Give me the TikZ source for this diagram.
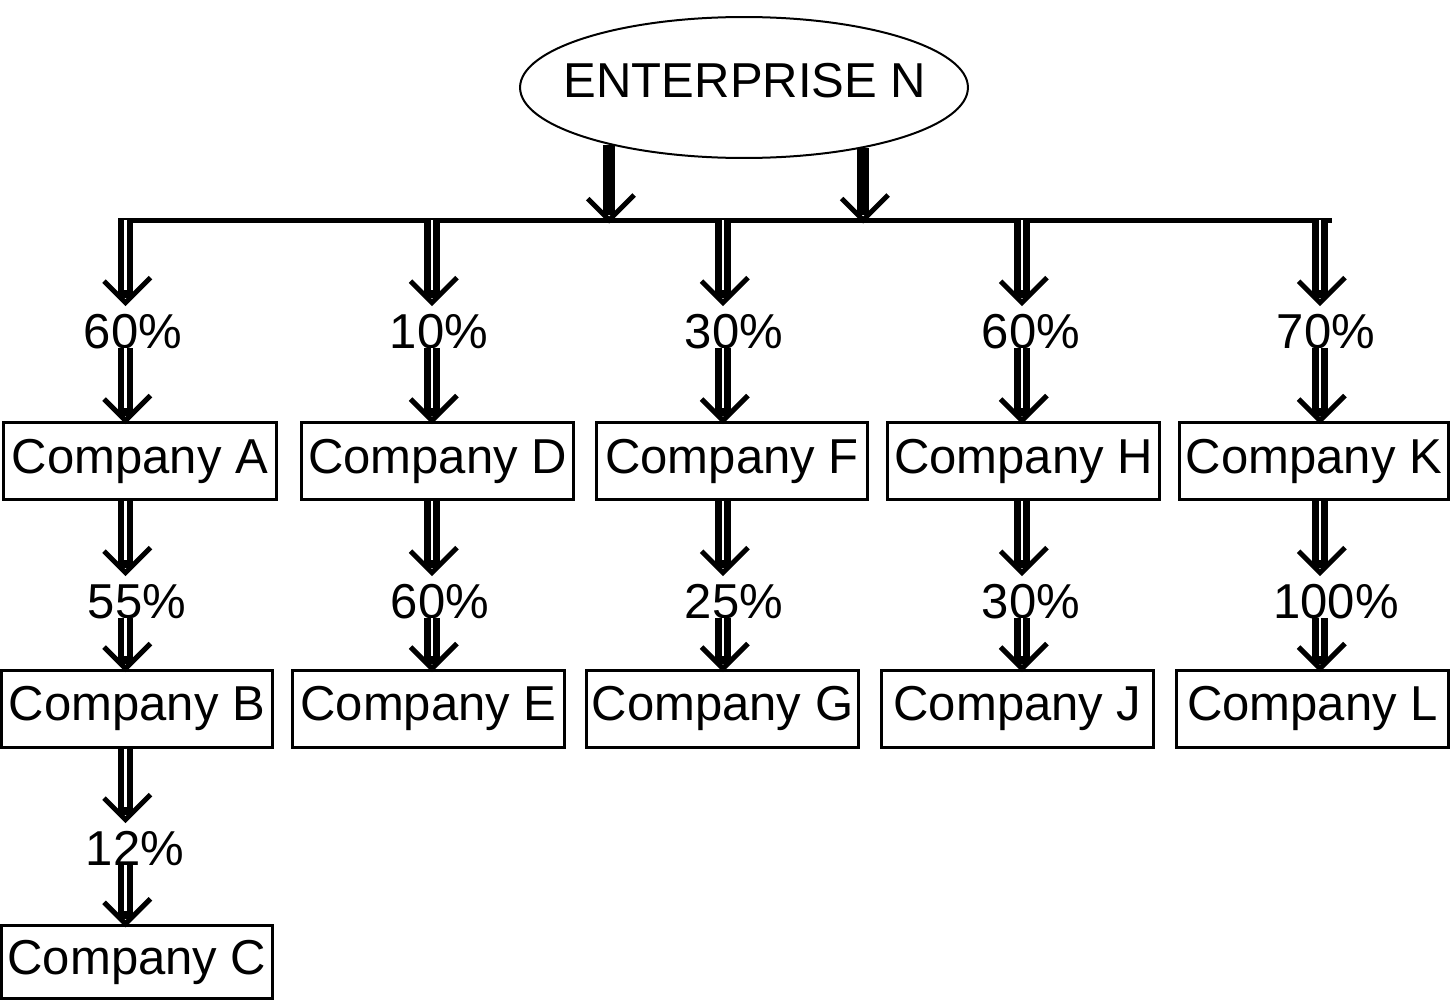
\documentclass[tikz,border=0pt]{standalone}
\usepackage{fontspec}
\setmainfont{Liberation Sans}
\usetikzlibrary{shapes.geometric,decorations.markings}
\begin{document}
\begin{tikzpicture}[x=0.02cm,y=-0.02cm,
  txt/.style={font=\fontsize{27.9pt}{32pt}\selectfont, inner sep=0pt},
  pct/.style={txt, text height=0.9cm, text depth=0pt, anchor=base},
  cbox/.style={txt, draw, line width=0.06cm, minimum height=1.56cm},
  entshape/.style={ellipse, draw, line width=0.04cm, inner sep=0pt,
    minimum width=8.96cm, minimum height=2.82cm},
  vtip/.style={postaction={decorate}, decoration={markings,
    mark=at position 1 with {\draw[line width=0.1cm, line join=miter, line cap=butt, -]
      (-0.5cm,0.5cm) -- (0,0) -- (-0.5cm,-0.5cm);}}},
  dshaft/.style={line width=0.32cm, shorten >=0.1cm,
    postaction={draw=white, line width=0.05cm, shorten >=0.25cm}, vtip},
  sshaft/.style={line width=0.24cm, shorten >=0.1cm, vtip},
  barline/.style={line width=0.1cm}
]
\useasboundingbox (0,0) rectangle (1451,1001);

% top
\node[entshape] (ent) at (744,87.5) {};
\node[txt] (entxt) at (745,80.5) {ENTERPRISE N};

\coordinate (barL) at (118,220);
\coordinate (barR) at (1332,220);
\draw[barline] (barL) -- (barR);

\draw[sshaft] (ent.-157.36) -- (ent.-157.36 |- barL);
\draw[sshaft] (ent.-27.19) -- (ent.-27.19 |- barL);

% column positions on the bar
\coordinate (c1) at (125.5,220);
\coordinate (c2) at (432,220);
\coordinate (c3) at (723,220);
\coordinate (c4) at (1022,220);
\coordinate (c5) at (1320,220);

% first-level labels
\node[pct] (p1) at (133,348) {60\%};
\node[pct] (p2) at (439,348) {10\%};
\node[pct] (p3) at (734,348) {30\%};
\node[pct] (p4) at (1031,348) {60\%};
\node[pct] (p5) at (1326,348) {70\%};

% first-level boxes
\node[cbox, minimum width=5.48cm] (A) at (140,461) {Company A};
\node[cbox, minimum width=5.46cm] (D) at (437.5,461) {Company D};
\node[cbox, minimum width=5.44cm] (F) at (732,461) {Company F};
\node[cbox, minimum width=5.46cm] (H) at (1023.5,461) {Company H};
\node[cbox, minimum width=5.40cm] (K) at (1314,461) {Company K};

% second-level labels
\node[pct] (q1) at (137,618) {55\%};
\node[pct] (q2) at (440,618) {60\%};
\node[pct] (q3) at (734,618) {25\%};
\node[pct] (q4) at (1031,618) {30\%};
\node[pct] (q5) at (1336,618) {100\%};

% second-level boxes
\node[cbox, minimum width=5.44cm, minimum height=1.54cm] (B) at (137,708.5) {Company B};
\node[cbox, minimum width=5.46cm, minimum height=1.54cm] (E) at (428.5,708.5) {Company E};
\node[cbox, minimum width=5.46cm, minimum height=1.54cm] (G) at (722.5,708.5) {Company G};
\node[cbox, minimum width=5.46cm, minimum height=1.54cm] (J) at (1017.5,708.5) {Company J};
\node[cbox, minimum width=5.46cm, minimum height=1.54cm] (L) at (1312.5,708.5) {Company L};

% third level
\node[pct] (r1) at (135,865) {12\%};
\node[cbox, minimum width=5.44cm, minimum height=1.47cm] (C) at (137,962) {Company C};

% connectors: bar -> labels -> boxes
\draw[dshaft] (c1) -- (p1.north -| c1);
\draw[dshaft] (c2) -- (p2.north -| c2);
\draw[dshaft] (c3) -- (p3.north -| c3);
\draw[dshaft] (c4) -- (p4.north -| c4);
\draw[dshaft] (c5) -- (p5.north -| c5);

\draw[dshaft] (p1.south -| c1) -- (A.north -| c1);
\draw[dshaft] (p2.south -| c2) -- (D.north -| c2);
\draw[dshaft] (p3.south -| c3) -- (F.north -| c3);
\draw[dshaft] (p4.south -| c4) -- (H.north -| c4);
\draw[dshaft] (p5.south -| c5) -- (K.north -| c5);

\draw[dshaft] (A.south -| c1) -- (q1.north -| c1);
\draw[dshaft] (D.south -| c2) -- (q2.north -| c2);
\draw[dshaft] (F.south -| c3) -- (q3.north -| c3);
\draw[dshaft] (H.south -| c4) -- (q4.north -| c4);
\draw[dshaft] (K.south -| c5) -- (q5.north -| c5);

\draw[dshaft] (q1.south -| c1) -- (B.north -| c1);
\draw[dshaft] (q2.south -| c2) -- (E.north -| c2);
\draw[dshaft] (q3.south -| c3) -- (G.north -| c3);
\draw[dshaft] (q4.south -| c4) -- (J.north -| c4);
\draw[dshaft] (q5.south -| c5) -- (L.north -| c5);

\draw[dshaft] (B.south -| c1) -- (r1.north -| c1);
\draw[dshaft] (r1.south -| c1) -- (C.north -| c1);
\end{tikzpicture}
\end{document}
